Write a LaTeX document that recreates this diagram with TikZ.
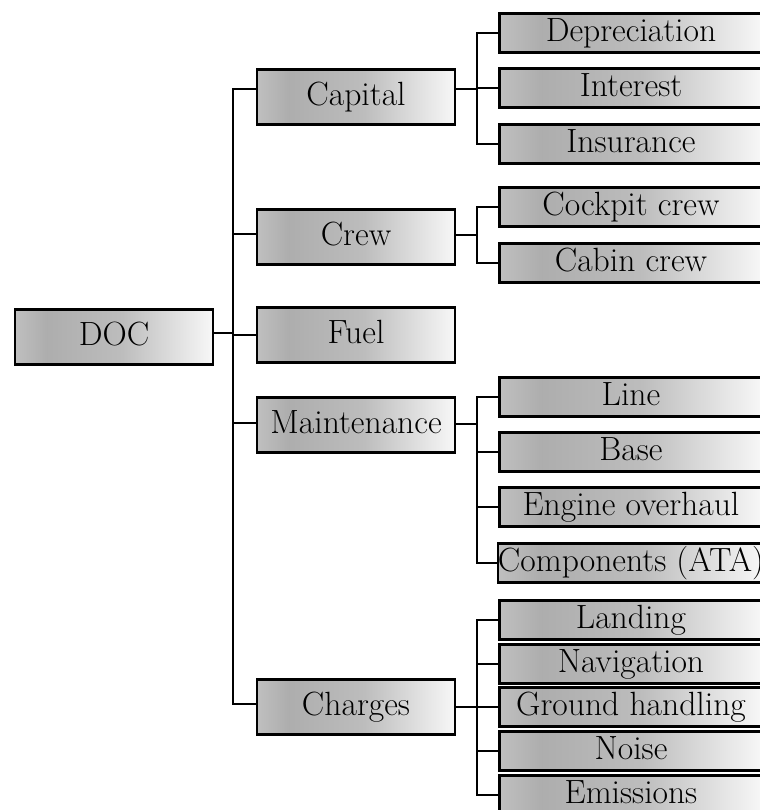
\documentclass[tikz,border=0pt]{standalone}
\usepackage{tikz}
\usetikzlibrary{positioning}
\pgfdeclarehorizontalshading{docshade}{100bp}{color(0bp)=(black!25); color(25bp)=(black!25); color(33bp)=(black!32); color(52bp)=(black!26); color(75bp)=(black!3); color(100bp)=(black!3)}

\begin{document}
\begin{tikzpicture}[x=0.5pt, y=-0.5pt,
        cost/.style={draw, line width=1.3pt, shade, shading=docshade, inner sep=0pt},
        main/.style={cost, minimum width=99pt, minimum height=27.5pt, text height=11.5pt, text depth=3pt, font=\fontsize{16.8}{19}\selectfont},
        sub/.style={cost, minimum width=131.5pt, minimum height=19.5pt, text height=11pt, text depth=3pt, font=\fontsize{16.8}{19}\selectfont},
        link/.style={line width=0.75pt},
        sublink/.style={line width=0.6pt}]
        \useasboundingbox (0,0) rectangle (760,810);
        \clip (0,0) rectangle (760,810);

            \node[main] (doc) at (114,337) {DOC};

            \node[main] (capital) at (356,97) {Capital};
            \node[main] (crew) at (356,237) {Crew};
            \node[main] (fuel) at (356,335) {Fuel};
            \node[main] (maint) at (356,425) {Maintenance};
            \node[main] (charges) at (356,707) {Charges};

            \node[sub] (depr) at (631,33) {Depreciation};
            \node[sub] (interest) at (631,88) {Interest};
            \node[sub] (insur) at (631,144) {Insurance};
            \node[sub] (cockpit) at (631,207) {Cockpit crew};
            \node[sub] (cabin) at (631,263) {Cabin crew};
            \node[sub] (line) at (631,397) {Line};
            \node[sub] (base) at (631,452) {Base};
            \node[sub] (engine) at (631,507) {Engine overhaul};
            \node[sub] (comp) at (631,563) {Components (ATA)};
            \node[sub] (landing) at (631,620) {Landing};
            \node[sub] (navig) at (631,664) {Navigation};
            \node[sub] (ground) at (631,707) {Ground handling};
            \node[sub] (noise) at (631,751) {Noise};
            \node[sub] (emiss) at (631,795) {Emissions};

            \coordinate (trunk) at (233,333);
            \coordinate (capfork) at (477,89);
            \coordinate (crewfork) at (477,235);
            \coordinate (maintfork) at (477,424);
            \coordinate (chargesfork) at (477,707);

            \draw[link] ([yshift=2pt]doc.east) -- (trunk);
            \draw[link] (trunk) |- ([yshift=4pt]capital.west);
            \draw[link] (trunk) |- ([yshift=1.5pt]crew.west);
            \draw[link] (trunk) |- (fuel.west);
            \draw[link] (trunk) |- ([yshift=1pt]maint.west);
            \draw[link] (trunk) |- ([yshift=1.5pt]charges.west);

            \draw[sublink] ([yshift=4pt]capital.east) -- (capfork);
            \draw[sublink] (capfork) |- (depr.west);
            \draw[sublink] (capfork) |- (interest.west);
            \draw[sublink] (capfork) |- (insur.west);

            \draw[sublink] ([yshift=1pt]crew.east) -- (crewfork);
            \draw[sublink] (crewfork) |- (cockpit.west);
            \draw[sublink] (crewfork) |- (cabin.west);

            \draw[sublink] ([yshift=0.5pt]maint.east) -- (maintfork);
            \draw[sublink] (maintfork) |- (line.west);
            \draw[sublink] (maintfork) |- (base.west);
            \draw[sublink] (maintfork) |- (engine.west);
            \draw[sublink] (maintfork) |- (comp.west);

            \draw[sublink] (charges.east) -- (chargesfork);
            \draw[sublink] (chargesfork) |- (landing.west);
            \draw[sublink] (chargesfork) |- (navig.west);
            \draw[sublink] (chargesfork) |- (ground.west);
            \draw[sublink] (chargesfork) |- (noise.west);
            \draw[sublink] (chargesfork) |- (emiss.west);
        \end{tikzpicture}
\end{document}
